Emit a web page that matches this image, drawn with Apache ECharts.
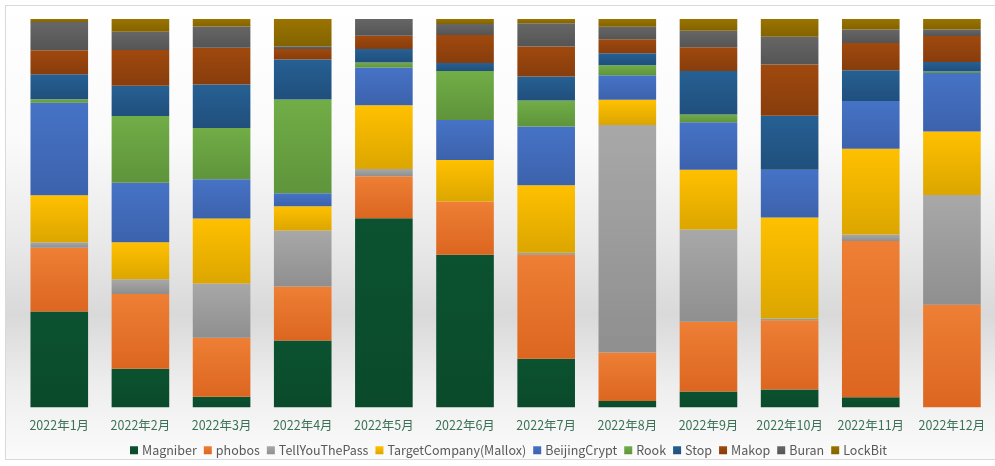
<!DOCTYPE html>
<html>
<head>
<meta charset="utf-8">
<script src="https://cdn.jsdelivr.net/npm/echarts@6/dist/echarts.min.js"></script>
<style>
  html, body { margin: 0; padding: 0; background: #ffffff; overflow: hidden; }
  #frame {
    position: absolute; left: 5px; top: 5px; width: 1000px; height: 455px;
    border: 1px solid #d9d9d9; box-sizing: border-box;
    background: linear-gradient(to bottom, #ffffff 0%, #fafafa 30%, #e9e9e9 52%, #d9d9d9 68%, #eeeeee 84%, #fbfbfb 100%);
  }
  #chart { position: absolute; left: 0; top: 0; width: 995px; height: 466px; }
</style>
</head>
<body>
<div id="frame"></div>
<div id="chart"></div>
<script>
// Monthly share (%) of ransomware families, 2022
const months = ['2022年1月','2022年2月','2022年3月','2022年4月','2022年5月','2022年6月',
                '2022年7月','2022年8月','2022年9月','2022年10月','2022年11月','2022年12月'];

const magniber       = [24.7, 9.9, 2.7, 17.2, 48.7, 39.3, 12.5, 1.6, 4.1, 4.6, 2.6, 0];
const phobos         = [16.4, 19.3, 15.2, 13.9, 10.8, 13.7, 26.8, 12.5, 17.9, 17.8, 40.2, 26.4];
const tellYouThePass = [1.4, 3.8, 14.0, 14.4, 1.9, 0, 0.5, 58.6, 23.8, 0.5, 1.7, 28.3];
const targetCompany  = [12.1, 9.5, 16.7, 6.3, 16.4, 10.7, 17.4, 6.5, 15.4, 26.0, 22.1, 16.3];
const beijingCrypt   = [23.8, 15.3, 10.1, 3.3, 9.7, 10.3, 15.1, 6.3, 12.2, 12.3, 12.3, 15.1];
const rook           = [0.95, 17.2, 13.2, 24.2, 1.3, 12.6, 6.7, 2.6, 2.0, 0, 0, 0.4];
const stop           = [6.4, 7.8, 11.2, 10.3, 3.5, 2.1, 6.2, 3.1, 11.2, 13.9, 7.9, 2.4];
const makop          = [6.2, 9.2, 9.5, 2.7, 3.4, 7.2, 7.7, 3.6, 6.1, 13.2, 7.0, 6.7];
const buran          = [7.3, 4.7, 5.5, 0.7, 4.3, 2.8, 6.0, 3.2, 4.3, 7.1, 3.5, 1.7];
const lockBit        = [0.75, 3.3, 1.9, 7.0, 0, 1.3, 1.1, 2.0, 3.0, 4.6, 2.7, 2.7];

const seriesDefs = [
  { name: 'Magniber',                data: magniber,       top: '#0b5230', bottom: '#0a4a2b' },
  { name: 'phobos',                  data: phobos,         top: '#ee7f35', bottom: '#dc6620' },
  { name: 'TellYouThePass',          data: tellYouThePass, top: '#a8a8a8', bottom: '#8f8f8f' },
  { name: 'TargetCompany(Mallox)',   data: targetCompany,  top: '#ffc000', bottom: '#dca600' },
  { name: 'BeijingCrypt',            data: beijingCrypt,   top: '#4673c6', bottom: '#3c62ac' },
  { name: 'Rook',                    data: rook,           top: '#71ad47', bottom: '#5f943b' },
  { name: 'Stop',                    data: stop,           top: '#266093', bottom: '#204f7c' },
  { name: 'Makop',                   data: makop,          top: '#a0490e', bottom: '#873d0c' },
  { name: 'Buran',                   data: buran,          top: '#666666', bottom: '#555555' },
  { name: 'LockBit',                 data: lockBit,        top: '#9a7400', bottom: '#836300' }
];

const chart = echarts.init(document.getElementById('chart'), null, { renderer: 'canvas' });

chart.setOption({
  backgroundColor: 'transparent',
  animation: false,
  color: seriesDefs.map(s => s.top),
  grid: { left: 18.7, right: 2.5, top: 19, bottom: 58.7, containLabel: false },
  xAxis: {
    type: 'category',
    data: months,
    axisLine: { show: false },
    axisTick: { show: false },
    axisLabel: {
      color: '#3b7157',
      fontSize: 12.5,
      fontFamily: 'Noto Sans CJK SC',
      margin: 12,
      interval: 0
    }
  },
  yAxis: {
    type: 'value',
    min: 0,
    max: 100,
    show: false,
    splitLine: { show: false }
  },
  legend: {
    left: 125,
    top: 439,
    itemWidth: 8,
    itemHeight: 8,
    itemGap: 7,
    icon: 'rect',
    textStyle: { color: '#595959', fontSize: 12.5, fontFamily: 'Noto Sans CJK SC', padding: [0, 0, 0, -1] },
    data: seriesDefs.map(s => s.name)
  },
  series: seriesDefs.map(s => ({
    name: s.name,
    type: 'bar',
    stack: 'share',
    barCategoryGap: '29%',
    data: s.data,
    itemStyle: {
      color: new echarts.graphic.LinearGradient(0, 0, 0, 1, [
        { offset: 0, color: s.top },
        { offset: 1, color: s.bottom }
      ])
    },
    emphasis: { disabled: true }
  }))
});
</script>
</body>
</html>
